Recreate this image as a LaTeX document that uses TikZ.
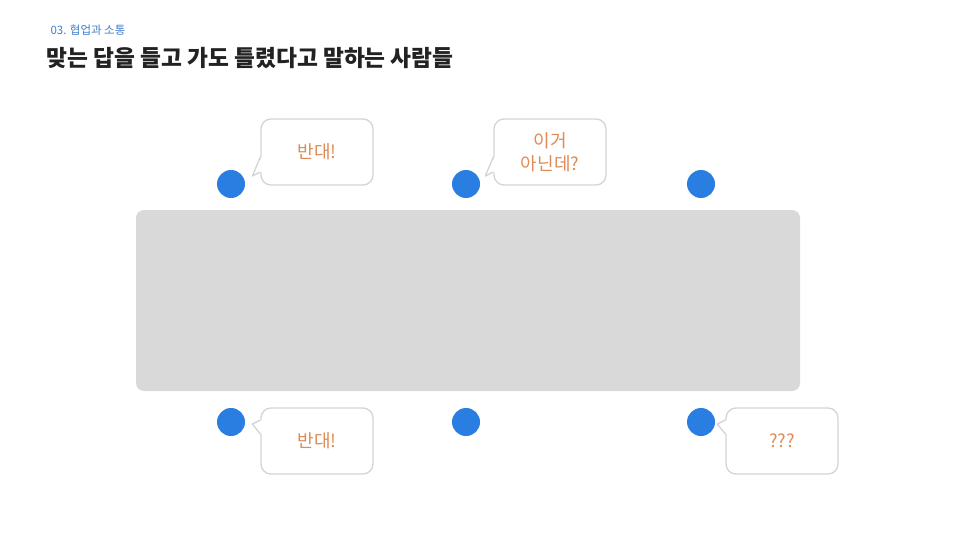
\documentclass[tikz,border=0pt]{standalone}
\usepackage{fontspec}
\setmainfont{Noto Sans CJK KR}
\usetikzlibrary{positioning}
\definecolor{dotblue}{HTML}{2A7DE1}
\definecolor{tablegray}{HTML}{D9D9D9}
\definecolor{bubbleline}{HTML}{D4D4D4}
\definecolor{talk}{HTML}{E08B55}
\definecolor{heading}{HTML}{222222}
\definecolor{section}{HTML}{3F80C9}

\begin{document}
\begin{tikzpicture}[x=1pt,y=-1pt,
  person/.style={circle,fill=dotblue,minimum size=28pt,inner sep=0pt},
  bubble/.style={rectangle,rounded corners=10pt,draw=bubbleline,line width=1.3pt,fill=white,
    minimum width=112pt,minimum height=66pt,text=talk,align=center,
    font=\fontsize{18}{23}\selectfont},
  tail/.style={draw=bubbleline,line width=1.3pt,line join=round}]
  \useasboundingbox[fill=white] (0,0) rectangle (960,540);

  \node[anchor=west,text=section,font=\fontsize{11.5}{13}\selectfont] (sec) at (47,30) {03. 협업과 소통};
  \node[anchor=west,text=heading,font=\fontsize{22.7}{26}\selectfont\bfseries] (title) at (43,58) {맞는 답을 들고 가도 틀렸다고 말하는 사람들};

  \node[rectangle,rounded corners=8pt,fill=tablegray,minimum width=664pt,minimum height=181pt] (table) at (468,300.5) {};

  \node[person] (p1) at (231,184) {};
  \node[person] (p2) at (466,184) {};
  \node[person] (p3) at (701,184) {};
  \node[person] (p4) at (231,422) {};
  \node[person] (p5) at (466,422) {};
  \node[person] (p6) at (701,422) {};

  \node[bubble] (b1) at (317,152) {반대!};
  \node[bubble] (b2) at (550,152) {이거\\아닌데?};
  \node[bubble] (b3) at (317,441) {반대!};
  \node[bubble] (b4) at (782,441) {???};

  % tails of the upper bubbles
  \foreach \b in {b1,b2} {
    \fill[white] ([xshift=1.5pt,yshift=-5pt]\b.west) -- ([xshift=-8pt,yshift=-24pt]\b.west) -- ([xshift=1.5pt,yshift=-20pt]\b.west) -- cycle;
    \draw[tail] ([yshift=-5pt]\b.west) -- ([xshift=-8pt,yshift=-24pt]\b.west) -- ([yshift=-20pt]\b.west);
  }
  % tails of the lower bubbles
  \foreach \b in {b3,b4} {
    \fill[white] ([xshift=1.5pt,yshift=21pt]\b.west) -- ([xshift=-8pt,yshift=17pt]\b.west) -- ([xshift=1.5pt,yshift=7pt]\b.west) -- cycle;
    \draw[tail] ([yshift=21pt]\b.west) -- ([xshift=-8pt,yshift=17pt]\b.west) -- ([yshift=7pt]\b.west);
  }
\end{tikzpicture}
\end{document}
